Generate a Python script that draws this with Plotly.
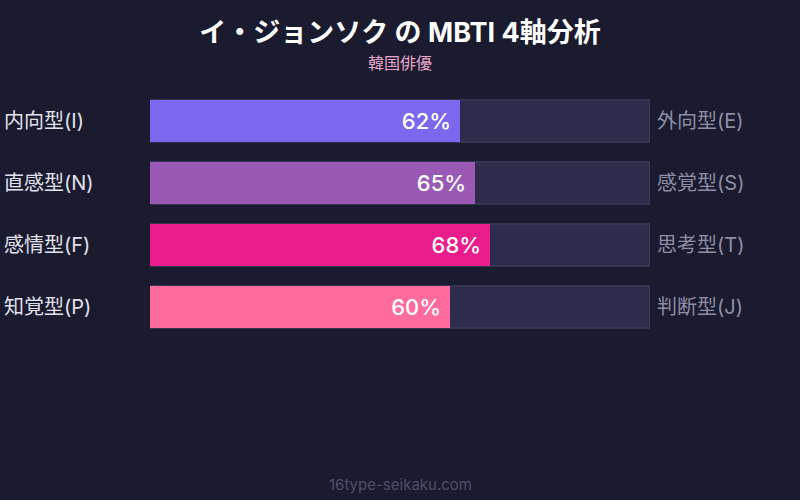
import plotly.graph_objects as go

# MBTI axis data
left_labels = ["内向型(I)", "直感型(N)", "感情型(F)", "知覚型(P)"]
right_labels = ["外向型(E)", "感覚型(S)", "思考型(T)", "判断型(J)"]
percents = [62, 65, 68, 60]
bar_colors = ["#7b68ee", "#9b59b6", "#e91e8c", "#ff6b9d"]

BG = "#1a1b2e"
FONT = "Inter, Noto Sans CJK JP, sans-serif"

fig = go.Figure()

# background track (full 100%)
fig.add_trace(
    go.Bar(
        x=[100] * len(left_labels),
        y=left_labels,
        orientation="h",
        width=0.68,
        marker=dict(color="#2d2c4a", line=dict(color="#45456a", width=1)),
        hoverinfo="skip",
        showlegend=False,
    )
)

# filled portion
fig.add_trace(
    go.Bar(
        x=percents,
        y=left_labels,
        orientation="h",
        width=0.68,
        marker=dict(color=bar_colors, cornerradius=7, line=dict(width=0)),
        text=[f"{p}%\u00a0" for p in percents],
        textposition="inside",
        insidetextanchor="end",
        textfont=dict(color="white", size=22, family=FONT, weight=500),
        showlegend=False,
    )
)

annotations = []
for lab in left_labels:
    annotations.append(dict(
        x=-0.296, xref="paper", y=lab, yref="y", text=lab, showarrow=False,
        xanchor="left", font=dict(color="#e2e2ee", size=20, family=FONT),
    ))
for lab, rlab in zip(left_labels, right_labels):
    annotations.append(dict(
        x=100, xref="x", y=lab, yref="y", text=rlab, showarrow=False,
        xanchor="left", xshift=5, font=dict(color="#8e8ea6", size=20, family=FONT),
    ))

# subtitle
annotations.append(dict(
    x=0.5, xref="paper", y=1, yref="paper", yshift=27, text="韓国俳優",
    showarrow=False, yanchor="middle",
    font=dict(color="#eaa6cc", size=16, family=FONT),
))

# footer
annotations.append(dict(
    x=0.5, xref="paper", y=-0.06, yref="paper", text="16type-seikaku.com",
    showarrow=False, yanchor="middle",
    font=dict(color="#4e4e6c", size=15, family=FONT),
))

fig.update_layout(
    width=800,
    height=500,
    paper_bgcolor=BG,
    plot_bgcolor=BG,
    barmode="overlay",
    title=dict(
        text="<b>イ・ジョンソク の MBTI 4軸分析</b>",
        x=0.5, xanchor="center", y=0.934, yanchor="middle",
        font=dict(color="white", size=27, family=FONT),
    ),
    margin=dict(l=150, r=150, t=90, b=38),
    xaxis=dict(range=[0, 100], visible=False, fixedrange=True),
    yaxis=dict(
        type="category",
        categoryorder="array",
        categoryarray=left_labels[::-1],
        range=[-2.5, 3.5],
        visible=False,
        fixedrange=True,
    ),
    annotations=annotations,
)

fig.write_html(
    "out.html",
    config={"displayModeBar": False},
    post_script="document.body.style.margin='0';document.body.style.background='#1a1b2e';",
)
